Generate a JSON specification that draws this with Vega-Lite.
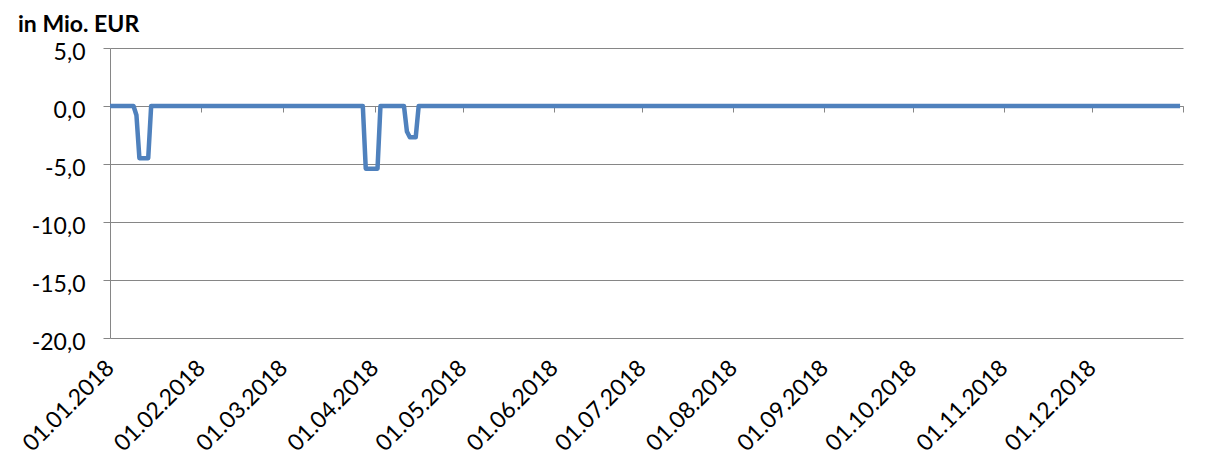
{
  "$schema": "https://vega.github.io/schema/vega-lite/v6.json",
  "width": 1073,
  "height": 290,
  "autosize": {"type": "none"},
  "padding": {"left": 110, "top": 48, "right": 32, "bottom": 127},
  "background": "white",
  "title": {
    "text": "in Mio. EUR",
    "anchor": "start",
    "frame": "group",
    "dx": -92,
    "font": "Lato",
    "fontSize": 23,
    "fontWeight": "bold",
    "color": "black",
    "offset": 4
  },
  "data": {
    "values": [
      {"date": "2018-01-01", "value": 0},
      {"date": "2018-01-09", "value": 0},
      {"date": "2018-01-10", "value": -0.8},
      {"date": "2018-01-11", "value": -4.5},
      {"date": "2018-01-14", "value": -4.5},
      {"date": "2018-01-15", "value": 0},
      {"date": "2018-03-28", "value": 0},
      {"date": "2018-03-29", "value": -5.4},
      {"date": "2018-04-02", "value": -5.4},
      {"date": "2018-04-03", "value": 0},
      {"date": "2018-04-11", "value": 0},
      {"date": "2018-04-12", "value": -2.2},
      {"date": "2018-04-13", "value": -2.7},
      {"date": "2018-04-15", "value": -2.7},
      {"date": "2018-04-16", "value": 0},
      {"date": "2018-12-31", "value": 0}
    ]
  },
  "layer": [
    {
      "mark": {"type": "line", "strokeOpacity": 0},
      "encoding": {
        "x": {
          "field": "date",
          "type": "temporal",
          "scale": {"type": "utc", "domain": [{"year": 2018, "month": 1, "date": 1, "utc": true}, {"year": 2019, "month": 1, "date": 1, "utc": true}]},
          "axis": {
            "orient": "bottom",
            "offset": -232,
            "title": null,
            "labels": false,
            "grid": false,
            "ticks": true,
            "tickSize": 6,
            "tickColor": "#868686",
            "domain": true,
            "domainColor": "#868686",
            "values": [
              {"year": 2018, "month": 1, "date": 1, "utc": true},
              {"year": 2018, "month": 2, "date": 1, "utc": true},
              {"year": 2018, "month": 3, "date": 1, "utc": true},
              {"year": 2018, "month": 4, "date": 1, "utc": true},
              {"year": 2018, "month": 5, "date": 1, "utc": true},
              {"year": 2018, "month": 6, "date": 1, "utc": true},
              {"year": 2018, "month": 7, "date": 1, "utc": true},
              {"year": 2018, "month": 8, "date": 1, "utc": true},
              {"year": 2018, "month": 9, "date": 1, "utc": true},
              {"year": 2018, "month": 10, "date": 1, "utc": true},
              {"year": 2018, "month": 11, "date": 1, "utc": true},
              {"year": 2018, "month": 12, "date": 1, "utc": true},
              {"year": 2019, "month": 1, "date": 1, "utc": true}
            ]
          }
        },
        "y": {
          "field": "value",
          "type": "quantitative",
          "scale": {"domain": [-20, 5], "nice": false, "zero": false},
          "axis": {
            "title": null,
            "values": [-20, -15, -10, -5, 0, 5],
            "grid": true,
            "gridColor": "#868686",
            "gridOpacity": 1,
            "domainColor": "#868686",
            "tickColor": "#868686",
            "tickSize": 7,
            "labelPadding": 18,
            "labelOffset": 4,
            "labelFont": "Lato",
            "labelFontSize": 23,
            "labelColor": "black",
            "labelExpr": "(datum.value < 0 ? '-' : '') + replace(format(abs(datum.value), '.1f'), '.', ',')"
          }
        }
      }
    },
    {
      "mark": {"type": "line", "color": "#4F81BD", "strokeWidth": 4.5, "strokeJoin": "round"},
      "encoding": {
        "x": {
          "field": "date",
          "type": "temporal",
          "scale": {"type": "utc", "domain": [{"year": 2018, "month": 1, "date": 1, "utc": true}, {"year": 2019, "month": 1, "date": 1, "utc": true}]},
          "axis": {
            "orient": "bottom",
            "title": null,
            "format": "%d.%m.%Y",
            "grid": false,
            "ticks": false,
            "domain": false,
            "labelAngle": -45,
            "labelAlign": "right",
            "labelBaseline": "middle",
            "labelPadding": 26,
            "labelFont": "Lato",
            "labelFontSize": 23,
            "labelColor": "black",
            "labelOverlap": false,
            "values": [
              {"year": 2018, "month": 1, "date": 1, "utc": true},
              {"year": 2018, "month": 2, "date": 1, "utc": true},
              {"year": 2018, "month": 3, "date": 1, "utc": true},
              {"year": 2018, "month": 4, "date": 1, "utc": true},
              {"year": 2018, "month": 5, "date": 1, "utc": true},
              {"year": 2018, "month": 6, "date": 1, "utc": true},
              {"year": 2018, "month": 7, "date": 1, "utc": true},
              {"year": 2018, "month": 8, "date": 1, "utc": true},
              {"year": 2018, "month": 9, "date": 1, "utc": true},
              {"year": 2018, "month": 10, "date": 1, "utc": true},
              {"year": 2018, "month": 11, "date": 1, "utc": true},
              {"year": 2018, "month": 12, "date": 1, "utc": true}
            ]
          }
        },
        "y": {"field": "value", "type": "quantitative"}
      }
    }
  ],
  "resolve": {"axis": {"x": "independent"}},
  "config": {"view": {"stroke": null}}
}
